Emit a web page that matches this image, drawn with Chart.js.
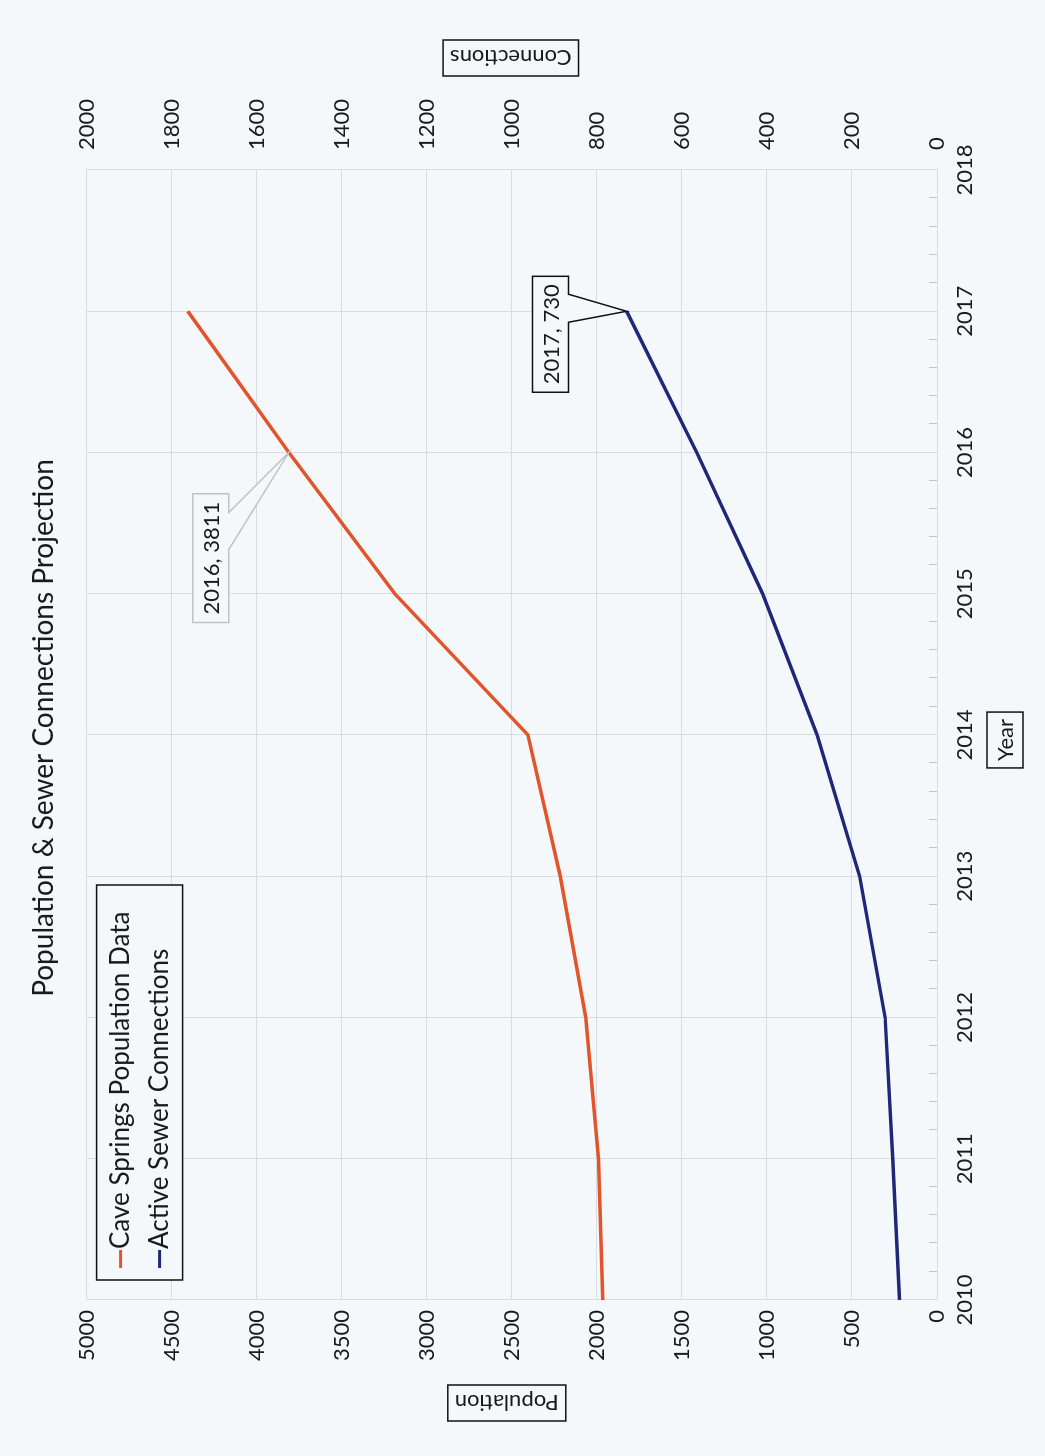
<!DOCTYPE html>
<html>
<head>
<meta charset="utf-8">
<title>Population & Sewer Connections Projection</title>
<script src="https://cdn.jsdelivr.net/npm/chart.js@4.4.1/dist/chart.umd.min.js"></script>
<style>
  html, body { margin: 0; padding: 0; background: #f4f8fb; overflow: hidden; }
  /* the scanned page is turned on its side, so the chart is drawn upright and rotated */
  #wrap {
    position: absolute; left: 0; top: 0;
    width: 1456px; height: 1045px;
    transform-origin: 0 0;
    transform: translateY(1456px) rotate(-90deg);
  }
</style>
</head>
<body>
<div id="wrap"><canvas id="chart" width="1456" height="1045"></canvas></div>
<script>
// Data
const years = [2010, 2011, 2012, 2013, 2014, 2015, 2016, 2017];
const population = [1965, 1990, 2065, 2215, 2405, 3188, 3811, 4405];
const connections = [88, 104, 122, 182, 282, 410, 565, 730];

const seriesNames = ['Cave Springs Population Data', 'Active Sewer Connections'];
const axisTitles = { y: 'Population', y1: 'Connections', x: 'Year' };

// Callouts shown on the chart: [dataset index, point index]
const callouts = [[0, 6], [1, 7]];

const FONT = 'Lato, "Open Sans", sans-serif';
const TEXT = '#1a1a1a';
const GRID = '#d8dde2';
const BG = '#f4f8fb';

// Helper to build {x, y} points
function toPoints(values) {
    return values.map((v, i) => ({ x: years[i], y: v }));
}

// Page background
const background = {
    id: 'background',
    beforeDraw(chart) {
        const ctx = chart.ctx;
        ctx.save();
        ctx.fillStyle = BG;
        ctx.fillRect(0, 0, chart.width, chart.height);
        ctx.restore();
    }
};

// Small minor tick marks inside the year axis (Excel style)
const minorTicks = {
    id: 'minorTicks',
    afterDatasetsDraw(chart) {
        const x = chart.scales.x;
        const ctx = chart.ctx;
        const bottom = chart.chartArea.bottom;
        ctx.save();
        ctx.strokeStyle = '#bfc5ca';
        ctx.lineWidth = 1;
        for (let yr = x.min; yr < x.max; yr++) {
            for (let k = 1; k < 5; k++) {
                const px = Math.round(x.getPixelForValue(yr + k / 5)) + 0.5;
                ctx.beginPath();
                ctx.moveTo(px, bottom);
                ctx.lineTo(px, bottom - 8);
                ctx.stroke();
            }
        }
        ctx.restore();
    }
};

// Boxed axis titles
const boxedTitles = {
    id: 'boxedTitles',
    afterDraw(chart) {
        const ctx = chart.ctx;
        const area = chart.chartArea;
        const midY = (area.top + area.bottom) / 2;
        const midX = (area.left + area.right) / 2;
        ctx.save();
        ctx.font = '22px ' + FONT;
        ctx.fillStyle = TEXT;
        ctx.strokeStyle = '#111';
        ctx.lineWidth = 1.5;
        ctx.textAlign = 'center';
        ctx.textBaseline = 'middle';

        function box(text, cx, cy, rotate) {
            const w = ctx.measureText(text).width + 14;
            const h = 36;
            ctx.save();
            ctx.translate(cx, cy);
            if (rotate) ctx.rotate(-Math.PI / 2);
            ctx.strokeRect(-w / 2, -h / 2, w, h);
            ctx.fillText(text, 0, 1);
            ctx.restore();
        }
        box(axisTitles.y, 53, midY - 5, true);
        box(axisTitles.y1, 1398, midY - 1, true);
        box(axisTitles.x, midX - 5, 1005, false);
        ctx.restore();
    }
};

// Legend with a black frame, inside the plot
const framedLegend = {
    id: 'framedLegend',
    afterDraw(chart) {
        const ctx = chart.ctx;
        const area = chart.chartArea;
        const left = area.left + 20;
        const top = area.top + 10;
        const w = 395, h = 86;
        ctx.save();
        ctx.fillStyle = BG;
        ctx.fillRect(left, top, w, h);
        ctx.strokeStyle = '#111';
        ctx.lineWidth = 1.5;
        ctx.strokeRect(left, top, w, h);
        ctx.font = '26px ' + FONT;
        ctx.textBaseline = 'middle';
        ctx.textAlign = 'left';
        chart.data.datasets.forEach((ds, i) => {
            const y = top + 24 + i * 39;
            ctx.strokeStyle = ds.borderColor;
            ctx.lineWidth = 3;
            ctx.beginPath();
            ctx.moveTo(left + 12, y);
            ctx.lineTo(left + 30, y);
            ctx.stroke();
            ctx.fillStyle = TEXT;
            ctx.fillText(ds.label, left + 31, y);
        });
        ctx.restore();
    }
};

// Callout labels "year, value"
const calloutLabels = {
    id: 'calloutLabels',
    afterDraw(chart) {
        const ctx = chart.ctx;
        ctx.save();
        ctx.font = '22px ' + FONT;
        ctx.textAlign = 'center';
        ctx.textBaseline = 'middle';
        callouts.forEach(([di, pi]) => {
            const ds = chart.data.datasets[di];
            const pt = chart.getDatasetMeta(di).data[pi];
            const raw = ds.data[pi];
            const text = raw.x + ', ' + raw.y;
            const w = ctx.measureText(text).width + 16;
            const h = 36;
            let bx, by, tip1, tip2, stroke;
            if (di === 0) {
                // box above-left, gray leader wedge
                bx = pt.x - 170; by = pt.y - 96;
                stroke = '#bcc3c9';
                tip1 = [bx + 110, by + h];
                tip2 = [bx + 73, by + h];
            } else {
                bx = pt.x - 81; by = pt.y - 94;
                stroke = '#111';
                tip1 = [bx + 98, by + h];
                tip2 = [bx + 70, by + h];
            }
            ctx.fillStyle = BG;
            ctx.strokeStyle = stroke;
            ctx.lineWidth = 1.5;
            ctx.beginPath();
            ctx.moveTo(bx, by);
            ctx.lineTo(bx + w, by);
            ctx.lineTo(bx + w, by + h);
            ctx.lineTo(tip1[0], tip1[1]);
            ctx.lineTo(pt.x, pt.y);
            ctx.lineTo(tip2[0], tip2[1]);
            ctx.lineTo(bx, by + h);
            ctx.closePath();
            ctx.fill();
            ctx.stroke();
            ctx.fillStyle = TEXT;
            ctx.fillText(text, bx + w / 2, by + h / 2 + 1);
        });
        ctx.restore();
    }
};

const ctx = document.getElementById('chart').getContext('2d');

new Chart(ctx, {
    type: 'line',
    data: {
        datasets: [{
            label: seriesNames[0],
            data: toPoints(population),
            borderColor: '#e2542a',
            borderWidth: 3.5,
            pointRadius: 0,
            tension: 0,
            yAxisID: 'y'
        }, {
            label: seriesNames[1],
            data: toPoints(connections),
            borderColor: '#1f2878',
            borderWidth: 3.5,
            pointRadius: 0,
            tension: 0,
            yAxisID: 'y1'
        }]
    },
    options: {
        responsive: false,
        animation: false,
        layout: { padding: 0 },
        plugins: {
            legend: { display: false },
            tooltip: { enabled: false },
            title: {
                display: true,
                text: 'Population & Sewer Connections Projection',
                color: TEXT,
                font: { family: FONT, size: 28, weight: 'normal' },
                padding: { top: 27, bottom: 26 }
            }
        },
        scales: {
            x: {
                type: 'linear',
                min: 2010,
                max: 2018,
                ticks: {
                    stepSize: 1,
                    padding: 15,
                    color: TEXT,
                    font: { family: FONT, size: 22 },
                    callback: v => String(v)
                },
                grid: { color: GRID, drawTicks: false },
                border: { color: GRID },
                afterFit: s => { s.height = 108; }
            },
            y: {
                position: 'left',
                min: 0,
                max: 5000,
                ticks: {
                    stepSize: 500,
                    padding: 10,
                    color: TEXT,
                    font: { family: FONT, size: 22 },
                    callback: v => String(v)
                },
                grid: { color: GRID, drawTicks: false },
                border: { color: GRID },
                afterFit: s => { s.width = 156; }
            },
            y1: {
                position: 'right',
                min: 0,
                max: 2000,
                ticks: {
                    stepSize: 200,
                    padding: 20,
                    color: TEXT,
                    font: { family: FONT, size: 22 },
                    callback: v => String(v)
                },
                grid: { display: false, drawTicks: false },
                border: { color: GRID },
                afterFit: s => { s.width = 170; }
            }
        }
    },
    plugins: [background, minorTicks, boxedTitles, framedLegend, calloutLabels]
});
</script>
</body>
</html>
